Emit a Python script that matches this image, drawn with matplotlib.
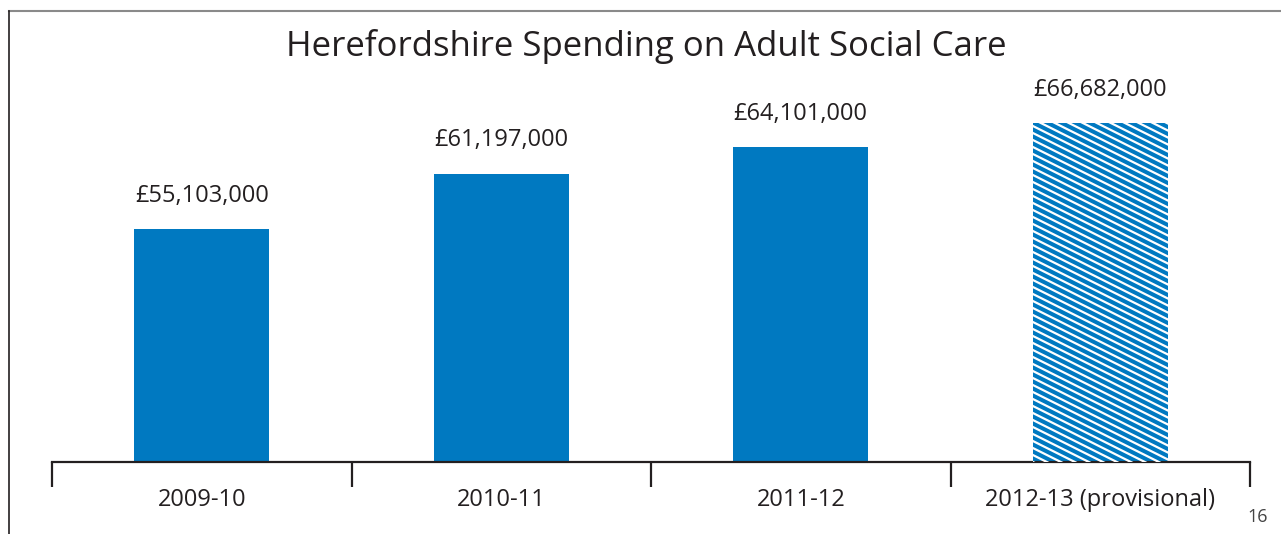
import numpy as np
import matplotlib.pyplot as plt
from matplotlib.lines import Line2D
from matplotlib.transforms import Bbox, IdentityTransform

plt.rcParams['font.family'] = ['Open Sans', 'DejaVu Sans']

# spending per financial year (pounds)
years = ['2009-10', '2010-11', '2011-12', '2012-13 (provisional)']
spending = [55103000, 61197000, 64101000, 66682000]
provisional = [False, False, False, True]

BLUE = '#0079C1'
INK = '#231F20'

fig = plt.figure(figsize=(12.81, 5.34), dpi=100)
ax = fig.add_axes([52 / 1281, 72 / 534, 1198 / 1281, 450 / 534])

x = np.arange(len(years))
bars = ax.bar(x, spending, width=0.45, color=BLUE, linewidth=0, zorder=2)

ax.set_xlim(-0.5, len(years) - 0.5)
ax.set_ylim(29.755e6, 78.8e6)

for xi, v in zip(x, spending):
    ax.annotate(f'£{v:,}', (xi, v), xytext=(0, 24), textcoords='offset points',
                ha='center', va='center', fontsize=17, color=INK)

# category separators as major ticks, labels on minor ticks
ax.set_xticks(np.arange(-0.5, len(years)), labels=[''] * (len(years) + 1))
ax.set_xticks(x, labels=years, minor=True)
ax.tick_params(axis='x', which='major', direction='out', length=18, width=1.6, color=INK)
ax.tick_params(axis='x', which='minor', length=0, pad=19, labelsize=17, labelcolor=INK)
ax.set_yticks([])
for side in ['top', 'right', 'left']:
    ax.spines[side].set_visible(False)
ax.spines['bottom'].set_color(INK)
ax.spines['bottom'].set_linewidth(1.6)
ax.spines['bottom'].set_zorder(4)

fig.text(646 / 1281, 1 - 46 / 534, 'Herefordshire Spending on Adult Social Care',
         ha='center', va='center', fontsize=25, color=INK)
fig.text(1258 / 1281, 1 - 517 / 534, '16', ha='center', va='center',
         fontsize=13, color='#444444')

# page frame
fig.add_artist(Line2D([9 / 1281, 1], [1 - 11 / 534] * 2, color='#8a8a8a', lw=1.5))
fig.add_artist(Line2D([9 / 1281] * 2, [0, 1 - 11 / 534], color=INK, lw=1.2))

# white diagonal stripes over provisional bars (clipped to the visible bar)
fig.canvas.draw()
slope = -0.5
step = 7
for bar, prov in zip(bars, provisional):
    if not prov:
        continue
    bb = Bbox.intersection(bar.get_window_extent(), ax.bbox)
    for y0 in np.arange(bb.y0, bb.y1 + bb.width * 0.5 + step, step):
        ln = Line2D([bb.x0 - 5, bb.x1 + 5],
                    [y0 - 5 * slope, y0 + slope * (bb.width + 5)],
                    transform=IdentityTransform(), color='white', lw=1.6,
                    zorder=3)
        ln.set_clip_box(bb)
        fig.add_artist(ln)

fig.savefig('out.png', dpi=100)
